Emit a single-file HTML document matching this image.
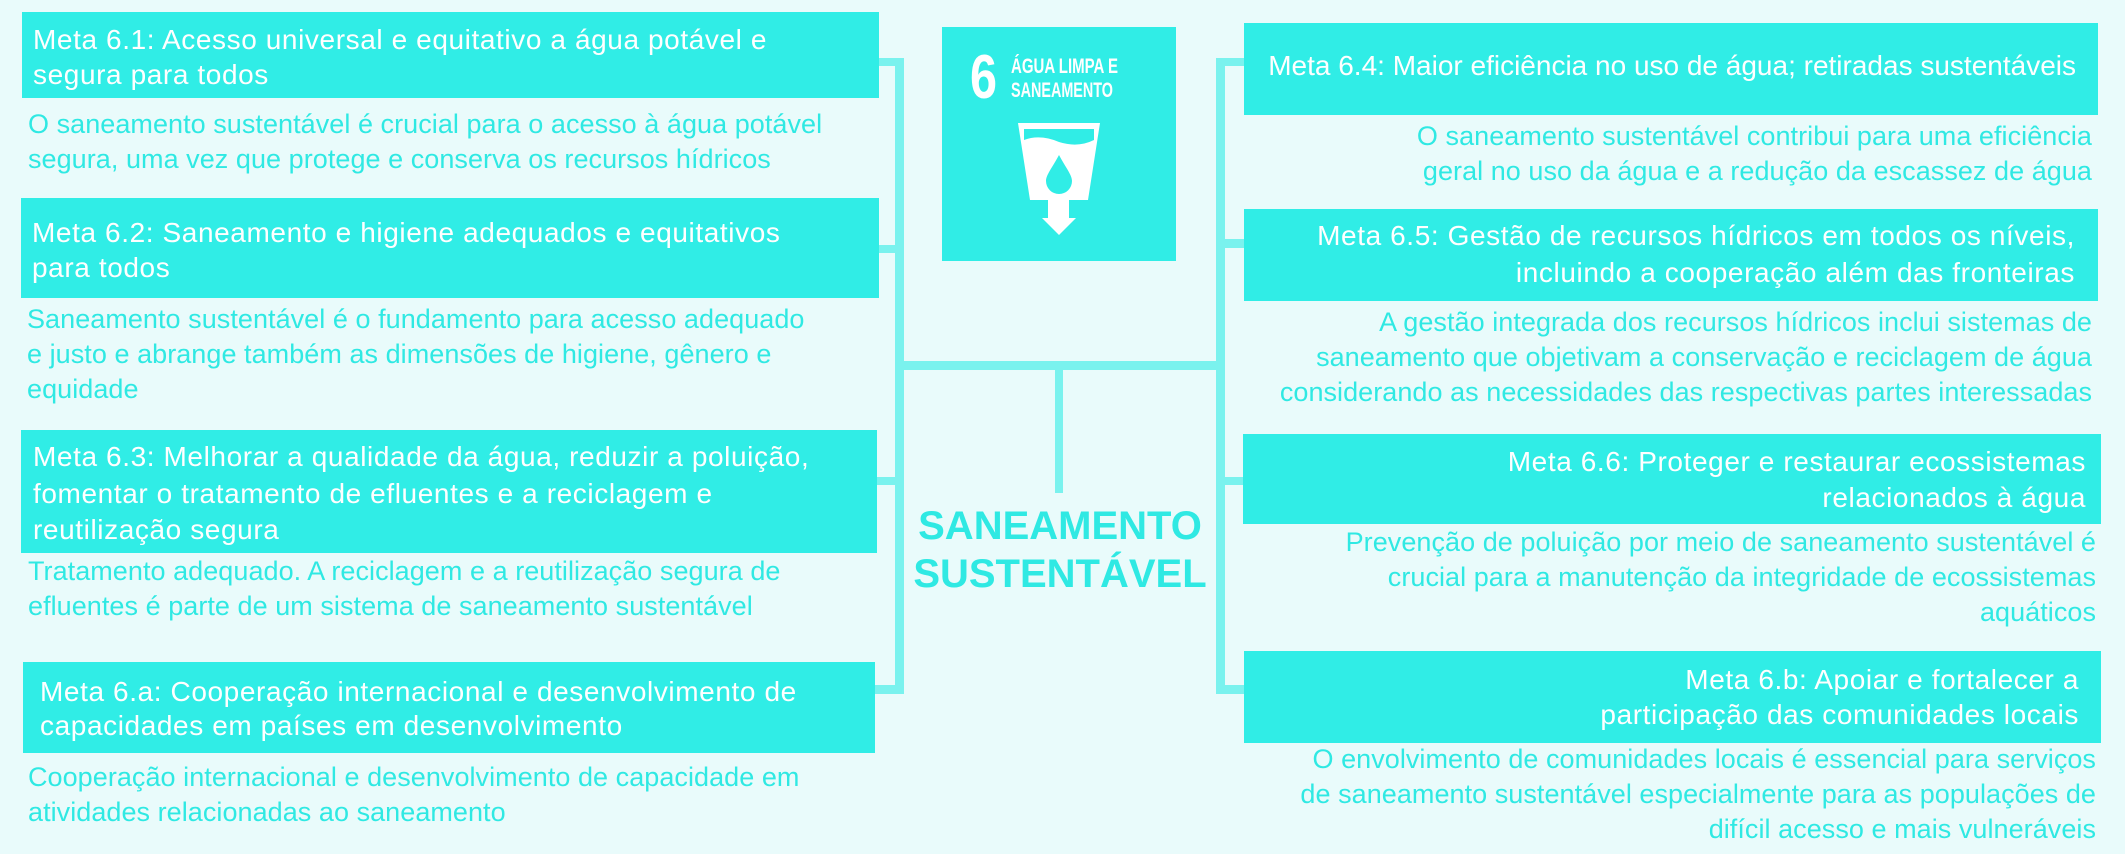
<!DOCTYPE html>
<html><head><meta charset="utf-8">
<style>
html,body{margin:0;padding:0;}
body{width:2125px;height:854px;background:#e9fbfb;position:relative;overflow:hidden;font-family:"Liberation Sans",sans-serif;}
.box{position:absolute;background:#30ede6;}
.t{position:absolute;white-space:nowrap;font-size:27px;line-height:35px;}
.w{color:#fff;font-size:28px;letter-spacing:0.6px;}
.c{color:#2fe9e3;letter-spacing:0.05px;}
.r{text-align:right;}
.ln{position:absolute;background:#7af2ee;}
.title{position:absolute;left:880px;width:360px;text-align:center;color:#2fe9e3;font-weight:bold;font-size:40px;letter-spacing:0px;line-height:48px;}
</style></head><body>

<div class="ln" style="left:895px;top:58px;width:9px;height:636px"></div>
<div class="ln" style="left:879px;top:58px;width:25px;height:8px"></div>
<div class="ln" style="left:879px;top:245px;width:25px;height:8px"></div>
<div class="ln" style="left:877px;top:477px;width:27px;height:8px"></div>
<div class="ln" style="left:875px;top:685px;width:29px;height:9px"></div>
<div class="ln" style="left:895px;top:361px;width:330px;height:9px"></div>
<div class="ln" style="left:1055px;top:361px;width:8px;height:132px"></div>
<div class="ln" style="left:1216px;top:58px;width:9px;height:636px"></div>
<div class="ln" style="left:1216px;top:58px;width:28px;height:8px"></div>
<div class="ln" style="left:1216px;top:239px;width:28px;height:9px"></div>
<div class="ln" style="left:1216px;top:477px;width:28px;height:8px"></div>
<div class="ln" style="left:1216px;top:685px;width:28px;height:9px"></div>

<div class="box" style="left:22px;top:12px;width:857px;height:86px"></div>
<div class="t w" style="left:33px;top:22px">Meta 6.1: Acesso universal e equitativo a água potável e<br>segura para todos</div>
<div class="t c" style="left:28px;top:107px">O saneamento sustentável é crucial para o acesso à água potável<br>segura, uma vez que protege e conserva os recursos hídricos</div>

<div class="box" style="left:21px;top:198px;width:858px;height:100px"></div>
<div class="t w" style="left:32px;top:215px">Meta 6.2: Saneamento e higiene adequados e equitativos<br>para todos</div>
<div class="t c" style="left:27px;top:302px">Saneamento sustentável é o fundamento para acesso adequado<br>e justo e abrange também as dimensões de higiene, gênero e<br>equidade</div>

<div class="box" style="left:21px;top:430px;width:856px;height:123px"></div>
<div class="t w" style="left:33px;top:439px;line-height:36.5px">Meta 6.3: Melhorar a qualidade da água, reduzir a poluição,<br>fomentar o tratamento de efluentes e a reciclagem e<br>reutilização segura</div>
<div class="t c" style="left:28px;top:554px">Tratamento adequado. A reciclagem e a reutilização segura de<br>efluentes é parte de um sistema de saneamento sustentável</div>

<div class="box" style="left:23px;top:662px;width:852px;height:91px"></div>
<div class="t w" style="left:40px;top:675px;line-height:34px">Meta 6.a: Cooperação internacional e desenvolvimento de<br>capacidades em países em desenvolvimento</div>
<div class="t c" style="left:28px;top:760px">Cooperação internacional e desenvolvimento de capacidade em<br>atividades relacionadas ao saneamento</div>

<div class="box" style="left:1244px;top:23px;width:854px;height:92px"></div>
<div class="t w r" style="right:49px;top:48px;letter-spacing:0px">Meta 6.4: Maior eficiência no uso de água; retiradas sustentáveis</div>
<div class="t c r" style="right:33px;top:119px">O saneamento sustentável contribui para uma eficiência<br>geral no uso da água e a redução da escassez de água</div>

<div class="box" style="left:1244px;top:209px;width:854px;height:92px"></div>
<div class="t w r" style="right:50px;top:217px;line-height:37px">Meta 6.5: Gestão de recursos hídricos em todos os níveis,<br>incluindo a cooperação além das fronteiras</div>
<div class="t c r" style="right:33px;top:305px">A gestão integrada dos recursos hídricos inclui sistemas de<br>saneamento que objetivam a conservação e reciclagem de água<br>considerando as necessidades das respectivas partes interessadas</div>

<div class="box" style="left:1243px;top:434px;width:858px;height:90px"></div>
<div class="t w r" style="right:39px;top:444px;line-height:36px">Meta 6.6: Proteger e restaurar ecossistemas<br>relacionados à água</div>
<div class="t c r" style="right:29px;top:525px">Prevenção de poluição por meio de saneamento sustentável é<br>crucial para a manutenção da integridade de ecossistemas<br>aquáticos</div>

<div class="box" style="left:1244px;top:651px;width:857px;height:92px"></div>
<div class="t w r" style="right:46px;top:662px">Meta 6.b: Apoiar e fortalecer a<br>participação das comunidades locais</div>
<div class="t c r" style="right:29px;top:742px">O envolvimento de comunidades locais é essencial para serviços<br>de saneamento sustentável especialmente para as populações de<br>difícil acesso e mais vulneráveis</div>

<div class="title" style="top:502px">SANEAMENTO<br>SUSTENTÁVEL</div>

<div class="box" style="left:942px;top:27px;width:234px;height:234px"></div>
<svg style="position:absolute;left:0;top:0" width="2125" height="854">
  <text x="970" y="98" fill="#fff" font-family="Liberation Sans" font-weight="bold" font-size="62" textLength="27" lengthAdjust="spacingAndGlyphs">6</text>
  <text x="1011" y="73" fill="#fff" font-family="Liberation Sans" font-weight="bold" font-size="21" textLength="107" lengthAdjust="spacingAndGlyphs">ÁGUA LIMPA  E</text>
  <text x="1011" y="97" fill="#fff" font-family="Liberation Sans" font-weight="bold" font-size="21" textLength="102" lengthAdjust="spacingAndGlyphs">SANEAMENTO</text>
  <polygon points="1018,123 1100,123 1088,200 1069,200 1069,218 1076,218 1059,235 1042,218 1048,218 1048,200 1030,200" fill="#fff"/>
  <path d="M1024,140 Q1040,134 1059,142 Q1078,148 1094,140 L1094,129 L1024,129 Z" fill="#30ede6"/>
  <path d="M1059,155 C1052,168 1046,175 1046,181 A13,13 0 0 0 1072,181 C1072,175 1066,168 1059,155 Z" fill="#30ede6"/>
</svg>
</body></html>
